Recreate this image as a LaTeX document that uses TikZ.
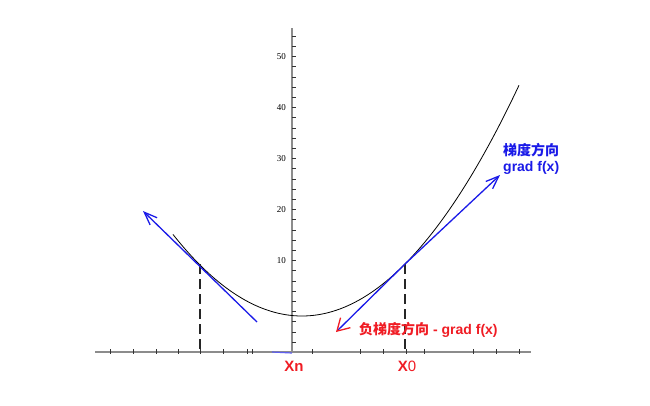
\documentclass[tikz,border=0pt]{standalone}
\usepackage{fontspec}
\setmainfont{Liberation Sans}
\newfontfamily\cjk{Noto Sans CJK SC}
\newfontfamily\numfont{Liberation Serif}
\usepackage{xcolor}
\usepackage{tikz}
\usetikzlibrary{
  arrows.meta,
  calc
}
\definecolor{GradBlue}{HTML}{1A1AE8}
\definecolor{GradRed}{HTML}{F01C24}
\definecolor{AxisGray}{HTML}{8C8C8C}

\begin{document}
\begin{tikzpicture}[x=1pt,y=-1pt,
    axisline/.style={draw=AxisGray,line width=1.4pt},
    tickline/.style={draw=black!80,line width=0.7pt},
    curveline/.style={draw=black,line width=0.8pt},
    gradline/.style={draw=GradBlue,line width=1.3pt},
    dropline/.style={draw=black!85,line width=1.6pt,dash pattern=on 10pt off 5pt},
    ylab/.style={font=\numfont\fontsize{9}{9}\selectfont,anchor=east,inner sep=0pt},
    xlab/.style={font=\fontsize{15}{15}\selectfont\bfseries,text=GradRed,inner sep=0pt},
    tiplabel/.style={font=\fontsize{14}{16}\selectfont\bfseries,inner sep=0pt}]
  \useasboundingbox[fill=white] (0,0) rectangle (650,405);

  % axes
  \coordinate (xleft) at (95,352);
  \coordinate (xright) at (531,352);
  \coordinate (ytop) at (292,28);
  \coordinate (ybot) at (292,353);
  \draw[axisline] (xleft) -- (xright);
  \draw[axisline] (ybot) -- (ytop);
  \coordinate (bluea) at (272,352);
  \draw[draw=GradBlue!70,line width=1.2pt] (bluea) -- (ybot);
  \foreach \tx in {110,133,156,178,200,223,247,252,312,360,383,406,424,473,496,519}
    \draw[tickline] (\tx,349) -- (\tx,354);
  \foreach \k in {0,...,30}
    \draw[tickline] (292,{36.1+10.2*\k}) -- (295.5,{36.1+10.2*\k});
  \foreach \v/\yy in {50/56.5,40/107.5,30/158.5,20/209.5,10/260.5}
    \node[ylab] (ylab\v) at (286,\yy) {\v};

  % f(x)
  \draw[curveline] plot[domain=173:519,samples=90,smooth] (\x,{316-0.49*((\x-302)/10)^2});

  % points on the curve
  \coordinate (xnpt) at (200,264);
  \coordinate (xnfoot) at (200,352);
  \coordinate (x0pt) at (405,264);
  \coordinate (x0foot) at (405,352);
  \draw[dropline] (xnpt) -- (xnfoot);
  \draw[dropline] (x0pt) -- (x0foot);

  % tangents
  \coordinate (lend) at (257,322);
  \coordinate (ltip) at (143,211);
  \draw[gradline,-{Straight Barb[length=13pt,width=10pt]}] (lend) -- (ltip);
  \coordinate (gtip) at (500,175);
  \coordinate (ntip) at (336,332);
  \draw[gradline,-{Straight Barb[length=13pt,width=10pt]}] (x0pt) -- (gtip);
  \draw[gradline,-{Straight Barb[length=12pt,width=14pt,color=GradRed]}] (x0pt) -- (ntip);

  % labels
  \node[xlab] (xnlab) at (294,366) {Xn};
  \node[xlab] (x0lab) at (407,366) {X\mdseries 0};
  \node[tiplabel,text=GradRed,anchor=west] (neglab) at (359,330)
    {{\cjk\bfseries 负梯度方向} - grad f(x)};
  \node[tiplabel,text=GradBlue,anchor=north west,align=left] (gradlab) at (503,143)
    {{\cjk\bfseries 梯度方向}\\grad f(x)};
\end{tikzpicture}
\end{document}
